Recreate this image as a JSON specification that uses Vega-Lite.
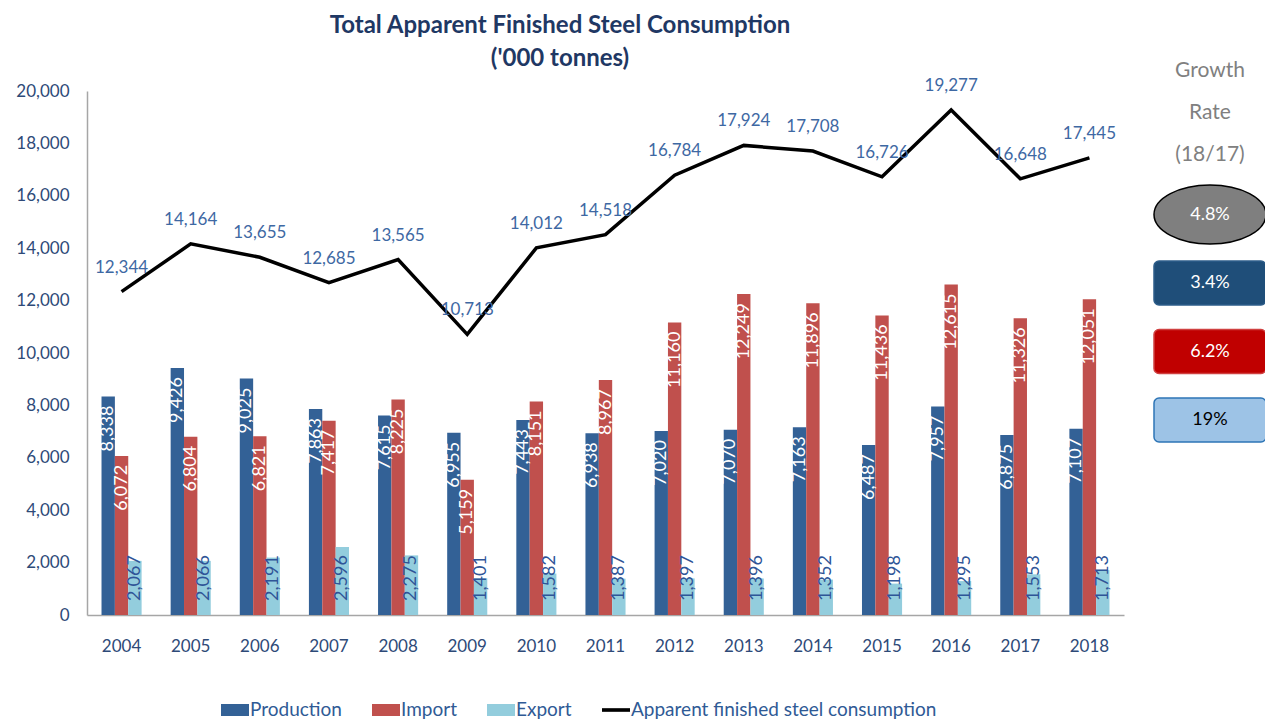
{
  "$schema": "https://vega.github.io/schema/vega-lite/v6.json",
  "background": "white",
  "padding": {"left": 5, "top": 14, "right": 0, "bottom": 5},
  "config": {"view": {"stroke": null}, "font": "Lato"},
  "title": {
    "text": ["Total Apparent Finished Steel Consumption", "('000 tonnes)"],
    "font": "Lato", "fontSize": 24, "fontWeight": "bold", "color": "#1f3864",
    "lineHeight": 33, "anchor": "middle", "align": "center", "dx": -77, "offset": -11
  },
  "datasets": {
    "steel": [
      {"year": "2004", "Production": 8338, "Import": 6072, "Export": 2067, "Consumption": 12344},
      {"year": "2005", "Production": 9426, "Import": 6804, "Export": 2066, "Consumption": 14164},
      {"year": "2006", "Production": 9025, "Import": 6821, "Export": 2191, "Consumption": 13655},
      {"year": "2007", "Production": 7863, "Import": 7417, "Export": 2596, "Consumption": 12685},
      {"year": "2008", "Production": 7615, "Import": 8225, "Export": 2275, "Consumption": 13565},
      {"year": "2009", "Production": 6955, "Import": 5159, "Export": 1401, "Consumption": 10713},
      {"year": "2010", "Production": 7443, "Import": 8151, "Export": 1582, "Consumption": 14012},
      {"year": "2011", "Production": 6938, "Import": 8967, "Export": 1387, "Consumption": 14518},
      {"year": "2012", "Production": 7020, "Import": 11160, "Export": 1397, "Consumption": 16784},
      {"year": "2013", "Production": 7070, "Import": 12249, "Export": 1396, "Consumption": 17924},
      {"year": "2014", "Production": 7163, "Import": 11896, "Export": 1352, "Consumption": 17708},
      {"year": "2015", "Production": 6487, "Import": 11436, "Export": 1198, "Consumption": 16726},
      {"year": "2016", "Production": 7957, "Import": 12615, "Export": 1295, "Consumption": 19277},
      {"year": "2017", "Production": 6875, "Import": 11326, "Export": 1553, "Consumption": 16648},
      {"year": "2018", "Production": 7107, "Import": 12051, "Export": 1713, "Consumption": 17445}
    ],
    "growth": [
      {"series": "Apparent finished steel consumption", "rate": "4.8%"},
      {"series": "Production", "rate": "3.4%"},
      {"series": "Import", "rate": "6.2%"},
      {"series": "Export", "rate": "19%"}
    ],
    "header": [
      {"line": "Growth"},
      {"line": "Rate"},
      {"line": "(18/17)"}
    ]
  },
  "spacing": 27,
  "hconcat": [
    {
      "width": 1037,
      "height": 524,
      "data": {"name": "steel"},
      "layer": [
        {
          "transform": [{"fold": ["Production", "Import", "Export"], "as": ["series", "value"]}],
          "mark": {"type": "bar"},
          "encoding": {
            "x": {
              "field": "year", "type": "nominal",
              "scale": {"paddingInner": 0.42, "paddingOuter": 0.21},
              "axis": {
                "title": null, "labelAngle": 0, "ticks": false, "domainColor": "#a6a6a6", "domainWidth": 1.5,
                "labelFontSize": 17, "labelColor": "#2e4a78", "labelPadding": 23, "labelFont": "Lato"
              }
            },
            "xOffset": {
              "field": "series", "type": "nominal",
              "scale": {"domain": ["Production", "Import", "Export"], "paddingInner": 0, "paddingOuter": 0}
            },
            "y": {
              "field": "value", "type": "quantitative",
              "scale": {"domain": [0, 20000]},
              "axis": {
                "title": null, "values": [0, 2000, 4000, 6000, 8000, 10000, 12000, 14000, 16000, 18000, 20000],
                "labelExpr": "format(datum.value, ',')", "grid": false, "ticks": false, "domainColor": "#a6a6a6", "domainWidth": 1.5,
                "labelFontSize": 17, "labelColor": "#2e4a78", "labelPadding": 18, "minExtent": 82, "labelFont": "Lato"
              }
            },
            "color": {
              "field": "series", "type": "nominal",
              "scale": {
                "domain": ["Production", "Import", "Export", "Apparent finished steel consumption"],
                "range": ["#336196", "#c0504d", "#93cddd", "#000000"]
              },
              "legend": {
                "title": null, "orient": "none", "direction": "horizontal", "legendX": 134, "legendY": 605,
                "labelFontSize": 19, "labelColor": "#2f5a95", "labelFont": "Lato", "labelLimit": 500,
                "symbolSize": 784, "labelOffset": 1, "columnPadding": 30, "symbolStrokeWidth": 0,
                "encode": {
                  "symbols": {
                    "update": {
                      "shape": {"signal": "datum.value === 'Apparent finished steel consumption' ? 'M-1,-0.13H1V0.13H-1Z' : 'M-1,-0.43H1V0.43H-1Z'"}
                    }
                  }
                }
              }
            }
          }
        },
        {
          "transform": [
            {"fold": ["Production", "Import", "Export"], "as": ["series", "value"]},
            {"filter": "datum.series !== 'Export'"}
          ],
          "mark": {"type": "text", "angle": 270, "align": "right", "baseline": "middle", "dx": -9, "color": "white", "fontSize": 18, "font": "Lato"},
          "encoding": {
            "x": {"field": "year", "type": "nominal"},
            "xOffset": {"field": "series", "type": "nominal"},
            "y": {"field": "value", "type": "quantitative"},
            "text": {"field": "value", "type": "quantitative", "format": ","}
          }
        },
        {
          "transform": [
            {"fold": ["Production", "Import", "Export"], "as": ["series", "value"]},
            {"filter": "datum.series === 'Export'"}
          ],
          "mark": {"type": "text", "angle": 270, "align": "left", "baseline": "middle", "dx": 14, "color": "#2f5597", "fontSize": 18, "font": "Lato"},
          "encoding": {
            "x": {"field": "year", "type": "nominal"},
            "xOffset": {"field": "series", "type": "nominal"},
            "y": {"datum": 0},
            "text": {"field": "value", "type": "quantitative", "format": ","}
          }
        },
        {
          "mark": {"type": "line", "strokeWidth": 3.5},
          "encoding": {
            "x": {"field": "year", "type": "nominal"},
            "y": {"field": "Consumption", "type": "quantitative"},
            "color": {"datum": "Apparent finished steel consumption"}
          }
        },
        {
          "mark": {"type": "text", "dy": -24, "fontSize": 17, "color": "#3e68a3", "font": "Lato"},
          "encoding": {
            "x": {"field": "year", "type": "nominal"},
            "y": {"field": "Consumption", "type": "quantitative"},
            "text": {"field": "Consumption", "type": "quantitative", "format": ","}
          }
        }
      ]
    },
    {
      "width": 112,
      "height": 524,
      "layer": [
        {
          "data": {"name": "header"},
          "mark": {"type": "text", "fontSize": 21, "color": "#808080", "font": "Lato"},
          "encoding": {
            "y": {"field": "line", "type": "nominal", "scale": {"type": "point", "domain": ["Growth", "Rate", "(18/17)"], "range": [-20, 64], "padding": 0}, "axis": null},
            "text": {"field": "line"}
          }
        },
        {
          "data": {"name": "growth"},
          "layer": [
            {
              "transform": [{"filter": "datum.series === 'Apparent finished steel consumption'"}],
              "mark": {"type": "point", "filled": true, "opacity": 1, "size": 12544,
                       "shape": "M-1,0A1,0.527 0 1 1 1,0A1,0.527 0 1 1 -1,0Z",
                       "fill": "#7f7f7f", "stroke": "#000000", "strokeWidth": 1.5},
              "encoding": {
                "y": {"field": "series", "type": "nominal",
                      "scale": {"type": "point", "domain": ["Apparent finished steel consumption", "Production", "Import", "Export"], "range": [123.5, 329], "padding": 0},
                      "axis": null}
              }
            },
            {
              "transform": [{"filter": "datum.series !== 'Apparent finished steel consumption'"}],
              "mark": {"type": "point", "filled": true, "opacity": 1, "size": 12544, "strokeWidth": 1.5,
                       "shape": "M-0.91,-0.393H0.91A0.09,0.09 0 0 1 1,-0.303V0.303A0.09,0.09 0 0 1 0.91,0.393H-0.91A0.09,0.09 0 0 1 -1,0.303V-0.303A0.09,0.09 0 0 1 -0.91,-0.393Z"},
              "encoding": {
                "y": {"field": "series", "type": "nominal"},
                "fill": {"field": "series", "type": "nominal", "legend": null,
                         "scale": {"domain": ["Production", "Import", "Export"], "range": ["#1f4e79", "#c00000", "#9dc3e6"]}},
                "stroke": {"field": "series", "type": "nominal", "legend": null,
                           "scale": {"domain": ["Production", "Import", "Export"], "range": ["#2e5e8a", "#d04040", "#2e75b6"]}}
              }
            },
            {
              "mark": {"type": "text", "fontSize": 18, "font": "Lato"},
              "encoding": {
                "y": {"field": "series", "type": "nominal"},
                "text": {"field": "rate"},
                "color": {"condition": {"test": "datum.series === 'Export'", "value": "#000000"}, "value": "#ffffff"}
              }
            }
          ]
        }
      ],
      "resolve": {"scale": {"y": "independent"}}
    }
  ]
}
